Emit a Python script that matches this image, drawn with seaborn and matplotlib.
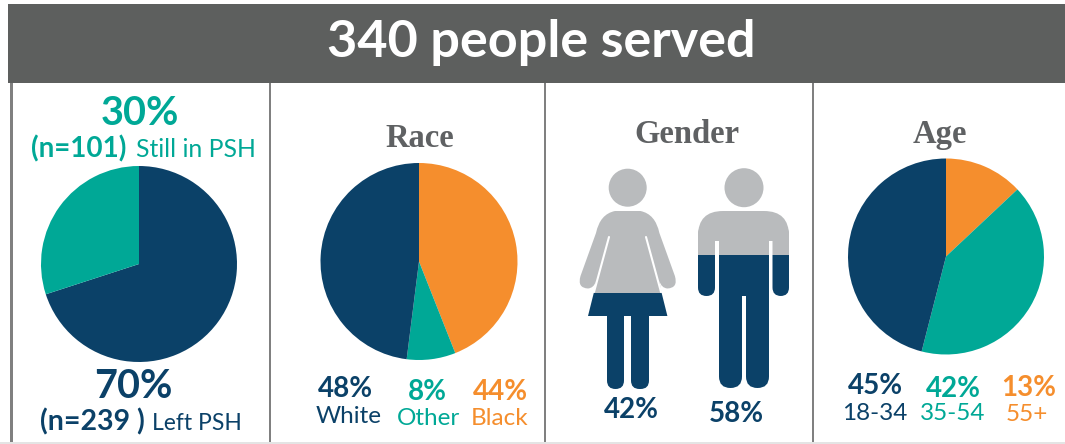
import matplotlib
matplotlib.use("Agg")
import matplotlib.pyplot as plt
from matplotlib.patches import Rectangle, Circle, FancyBboxPatch, PathPatch
from matplotlib.path import Path
import seaborn as sns

W, H = 1065, 444
NAVY, TEAL, ORANGE, GREY = "#0B4168", "#00A896", "#F58E2D", "#B9BBBD"
HEADER, RULE, SLATE = "#5D5F5E", "#808080", "#5F6163"

title = "340 people served"
status_labels = ["Left PSH", "Still in PSH"]
status_values = [70, 30]
race_labels = ["Black", "Other", "White"]
race_values = [44, 8, 48]
age_labels = ["55+", "35-54", "18-34"]
age_printed = ["13%", "42%", "45%"]
# slice sizes as drawn in the picture (the printed shares are age_printed)
age_values = [13, 41, 46]
gender_labels = ["Female", "Male"]
gender_values = [42, 58]

sns.set_theme(style="white")
SANS = ["Lato", "DejaVu Sans"]
SERIF = ["Liberation Serif", "DejaVu Serif"]
plt.rcParams["font.family"] = SANS

fig = plt.figure(figsize=(W / 100, H / 100), dpi=100, facecolor="white")
bg = fig.add_axes([0, 0, 1, 1])
bg.set_xlim(0, W)
bg.set_ylim(H, 0)
bg.axis("off")

# frame
bg.add_patch(Rectangle((8, 4), W - 8, 79, fc=HEADER, ec="none"))
bg.add_patch(Rectangle((10, 83), 3, H - 83, fc=RULE, ec="none"))
for x in (269.5, 545, 813):
    bg.add_patch(Rectangle((x - 1, 83), 2, H - 83, fc=RULE, ec="none"))
bg.add_patch(Rectangle((0, 442), W, 2, fc="#E4E4E4", ec="none"))


def T(x, y, s, color, size, weight="normal", ha="center", family=None):
    bg.text(x, y, s, color=color, fontsize=size, fontweight=weight, ha=ha, va="center",
            family=family or SANS)


T(541.5, 43, title, "white", 37.5, "bold")
T(140, 113, "30%", TEAL, 28.5, "bold")
T(31, 149, "(n=101)", TEAL, 20, "bold", "left")
T(136, 149, status_labels[1], TEAL, 17.8, "normal", "left")
T(133, 386, "70%", NAVY, 28.5, "bold")
T(40, 422, "(n=239 )", NAVY, 20.5, "bold", "left")
T(152, 423, status_labels[0], NAVY, 16.5, "normal", "left")
T(420, 138, "Race", SLATE, 23.5, "bold", family=SERIF)
T(686.5, 134, "Gender", SLATE, 23.5, "bold", family=SERIF)
T(940, 134, "Age", SLATE, 23.5, "bold", family=SERIF)
for x, y, s, c in [(345, 389, "48%", NAVY), (427, 392, "8%", TEAL), (500, 392, "44%", ORANGE),
                   (631, 410, "42%", NAVY), (736, 414, "58%", NAVY),
                   (875, 386, age_printed[2], NAVY), (953, 389, age_printed[1], TEAL),
                   (1029, 388, age_printed[0], ORANGE)]:
    T(x, y, s, c, 20, "bold")
for x, y, s, c in [(349, 416, race_labels[2], NAVY), (429, 418, race_labels[1], TEAL),
                   (499.5, 418, race_labels[0], ORANGE),
                   (875, 413, age_labels[2], NAVY), (953, 413, age_labels[1], TEAL),
                   (1027, 414, age_labels[0], ORANGE)]:
    T(x, y, s, c, 17.5, "normal")


def pie(cx, cy, r, values, colors):
    pad = 1.03
    ax = fig.add_axes([(cx - r * pad) / W, 1 - (cy + r * pad) / H, 2 * r * pad / W, 2 * r * pad / H])
    ax.pie(values, colors=colors, startangle=90, counterclock=False, radius=1, wedgeprops=dict(linewidth=0))
    ax.set_xlim(-pad, pad)
    ax.set_ylim(-pad, pad)
    ax.axis("off")


pie(139, 264, 98, status_values, sns.color_palette([NAVY, TEAL]))
pie(419, 261.5, 98.5, race_values, sns.color_palette([ORANGE, TEAL, NAVY]))
pie(946, 256.5, 98, age_values, sns.color_palette([ORANGE, TEAL, NAVY]))

# Gender icons: the navy fill rises from the feet by value x 2.29 px per percent
PX_PER_PCT = 2.29


def two_tone(makers, feet, value):
    split = feet - value * PX_PER_PCT
    top = Rectangle((560, 150), 240, split - 150, transform=bg.transData)
    low = Rectangle((560, split), 240, 260, transform=bg.transData)
    for make in makers:
        a = make(GREY)
        bg.add_patch(a)
        a.set_clip_path(top)
        b = make(NAVY)
        bg.add_patch(b)
        b.set_clip_path(low)


def rr(x0, y0, x1, y1, rad):
    return lambda c: FancyBboxPatch((x0 + rad, y0 + rad), x1 - x0 - 2 * rad, y1 - y0 - 2 * rad,
                                    boxstyle=f"round,pad={rad},rounding_size={rad}", fc=c, ec="none")


def shape(cmds):
    verts = [p for _, p in cmds]
    codes = [k for k, _ in cmds]
    return lambda c: PathPatch(Path(verts, codes), fc=c, ec="none")


M, L, Q, Z = Path.MOVETO, Path.LINETO, Path.CURVE3, Path.CLOSEPOLY
cx = 627.7


def mir(x):
    return 2 * cx - x


half = [(615, 211), (600, 214), (596, 233), (580.5, 276), (577, 288), (588, 288.5), (594, 288), (596, 281), (594, 292), (588, 316)]
kinds = [M, Q, Q, L, Q, Q, Q, Q, L, L]
female_cmds = list(zip(kinds, half))
# mirrored right-hand side, walked back up from the hem to the shoulder
female_cmds += [(L, (mir(588), 316)), (L, (mir(594), 292)), (L, (mir(596), 281)),
                (Q, (mir(594), 288)), (Q, (mir(588), 288.5)), (Q, (mir(577), 288)), (Q, (mir(580.5), 276)),
                (L, (mir(596), 233)), (Q, (mir(600), 214)), (Q, (mir(615), 211)), (Z, (615, 211))]
female = [shape(female_cmds), rr(607, 300, 624, 389, 8.5), rr(631, 300, 649, 389, 8.5)]
bg.add_patch(Circle((cx, 187.7), 19, fc=GREY, ec="none"))
two_tone(female, 389, gender_values[0])
bg.plot([609, 594], [237, 292], color="white", lw=1.5, solid_capstyle="round")
bg.plot([646, 661], [237, 292], color="white", lw=1.5, solid_capstyle="round")

male_top = shape([(M, (698, 241)), (L, (698, 236)), (Q, (698, 211)), (Q, (723, 211)), (L, (764, 211)),
                  (Q, (789, 211)), (Q, (789, 236)), (L, (789, 241)), (Z, (698, 241))])
male = [male_top, rr(698, 225, 715, 296, 8.5), rr(772.5, 225, 789, 296, 8.5),
        rr(719, 225, 769, 320, 4), rr(719, 290, 742, 388, 11.5), rr(746, 290, 769, 388, 11.5)]
bg.add_patch(Circle((744, 187.7), 19.5, fc=GREY, ec="none"))
two_tone(male, 388, gender_values[1])
bg.add_patch(Rectangle((741.8, 296), 4, 60, fc="white", ec="none"))

fig.savefig("out.png", dpi=100, facecolor="white")
